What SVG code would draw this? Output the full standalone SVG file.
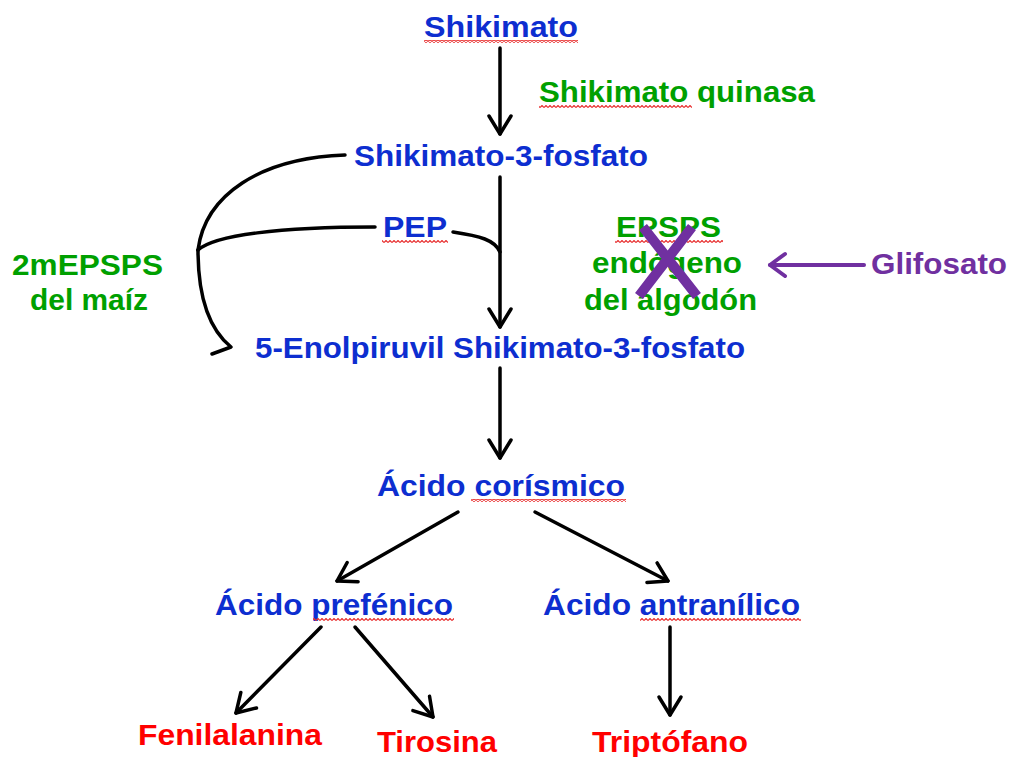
<svg xmlns="http://www.w3.org/2000/svg" width="1011" height="757" viewBox="0 0 1011 757">
<style>
text{font-family:"Liberation Sans",Arial,sans-serif;font-weight:bold;font-size:29px}
.b{fill:#0d2ed0}
.g{fill:#00a000}
.r{fill:#ff0000}
.p{fill:#7030a0}
.c{fill:none;stroke:#000;stroke-width:3.5;stroke-linecap:round;stroke-linejoin:round}
.sq{fill:url(#squig)}
</style>
<defs>
<marker id="ah" markerUnits="userSpaceOnUse" markerWidth="30" markerHeight="30" viewBox="-22 -15 26 30" refX="0" refY="0" orient="auto" overflow="visible">
<path d="M-18,-11 L0,0 L-18,11" fill="none" stroke="#000" stroke-width="3.5" stroke-linecap="round" stroke-linejoin="round"/>
</marker>
<marker id="ahp" markerUnits="userSpaceOnUse" markerWidth="30" markerHeight="30" viewBox="-22 -15 26 30" refX="0" refY="0" orient="auto" overflow="visible">
<path d="M-15,-11 L0,0 L-15,11" fill="none" stroke="#7030a0" stroke-width="4" stroke-linecap="round" stroke-linejoin="round"/>
</marker>
<pattern id="squig" patternUnits="userSpaceOnUse" width="4" height="3">
<polyline points="0,2.5 2,0.5 4,2.5" fill="none" stroke="#e83030" stroke-width="1.2"/>
</pattern>
</defs>
<g id="connectors">
<path class="c" d="M500,48 L500,134" marker-end="url(#ah)"/>
<path class="c" d="M500,177 L500,327" marker-end="url(#ah)"/>
<path class="c" d="M453,232 C480,236 495,240 500,252"/>
<path class="c" d="M345,155 C260,158 205,195 198,250"/>
<path class="c" d="M375,227 C280,227 215,235 198,250"/>
<path class="c" d="M198,250 C198,300 210,330 231,347 L212,354"/>
<path class="c" d="M500,368 L500,458" marker-end="url(#ah)"/>
<path class="c" d="M458,512 L337,581" marker-end="url(#ah)"/>
<path class="c" d="M535,512 L668,581" marker-end="url(#ah)"/>
<path class="c" d="M321,627 L236,713" marker-end="url(#ah)"/>
<path class="c" d="M355,627 L433,717" marker-end="url(#ah)"/>
<path class="c" d="M670,627 L670,715" marker-end="url(#ah)"/>
<path d="M864,265 L770,265" fill="none" stroke="#7030a0" stroke-width="4" stroke-linecap="round" marker-end="url(#ahp)"/>
</g>
<g id="n-shikimato"><text class="b" x="424" y="37" textLength="154" lengthAdjust="spacingAndGlyphs">Shikimato</text><rect class="sq" x="424" y="40" width="154" height="3"/></g>
<g id="n-quinasa"><text class="g" x="539" y="102" textLength="276" lengthAdjust="spacingAndGlyphs">Shikimato quinasa</text><rect class="sq" x="539" y="105" width="153" height="3"/></g>
<g id="n-s3p"><text class="b" x="354" y="166" textLength="294" lengthAdjust="spacingAndGlyphs">Shikimato-3-fosfato</text></g>
<g id="n-pep"><text class="b" x="383" y="237" textLength="64" lengthAdjust="spacingAndGlyphs">PEP</text><rect class="sq" x="382" y="240" width="66" height="3"/></g>
<g id="n-2mepsps"><text class="g" x="12" y="275" textLength="151" lengthAdjust="spacingAndGlyphs">2mEPSPS</text><text class="g" x="30" y="310" textLength="118" lengthAdjust="spacingAndGlyphs">del maíz</text></g>
<g id="n-epsps">
<text class="g" x="616" y="237" textLength="105" lengthAdjust="spacingAndGlyphs">EPSPS</text>
<rect class="sq" x="615" y="240" width="108" height="3"/>
<text class="g" x="592" y="273" textLength="150" lengthAdjust="spacingAndGlyphs">endógeno</text>
<text class="g" x="584" y="310" textLength="173" lengthAdjust="spacingAndGlyphs">del algodón</text>
<path d="M643,227 L697,296 M692,227 L639,296" stroke="#7030a0" stroke-width="10" fill="none"/>
</g>
<g id="n-glifosato"><text class="p" x="871" y="274" textLength="136" lengthAdjust="spacingAndGlyphs">Glifosato</text></g>
<g id="n-enol"><text class="b" x="255" y="358" textLength="490" lengthAdjust="spacingAndGlyphs">5-Enolpiruvil Shikimato-3-fosfato</text></g>
<g id="n-corismico"><text class="b" x="377" y="496" textLength="248" lengthAdjust="spacingAndGlyphs">Ácido corísmico</text><rect class="sq" x="471" y="499" width="155" height="3"/></g>
<g id="n-prefenico"><text class="b" x="215" y="615" textLength="238" lengthAdjust="spacingAndGlyphs">Ácido prefénico</text><rect class="sq" x="313" y="618" width="141" height="3"/></g>
<g id="n-antranilico"><text class="b" x="543" y="615" textLength="257" lengthAdjust="spacingAndGlyphs">Ácido antranílico</text><rect class="sq" x="640" y="618" width="161" height="3"/></g>
<g id="n-fenilalanina"><text class="r" x="138" y="745" textLength="184" lengthAdjust="spacingAndGlyphs">Fenilalanina</text></g>
<g id="n-tirosina"><text class="r" x="377" y="752" textLength="120" lengthAdjust="spacingAndGlyphs">Tirosina</text></g>
<g id="n-triptofano"><text class="r" x="592" y="752" textLength="156" lengthAdjust="spacingAndGlyphs">Triptófano</text></g>
</svg>
